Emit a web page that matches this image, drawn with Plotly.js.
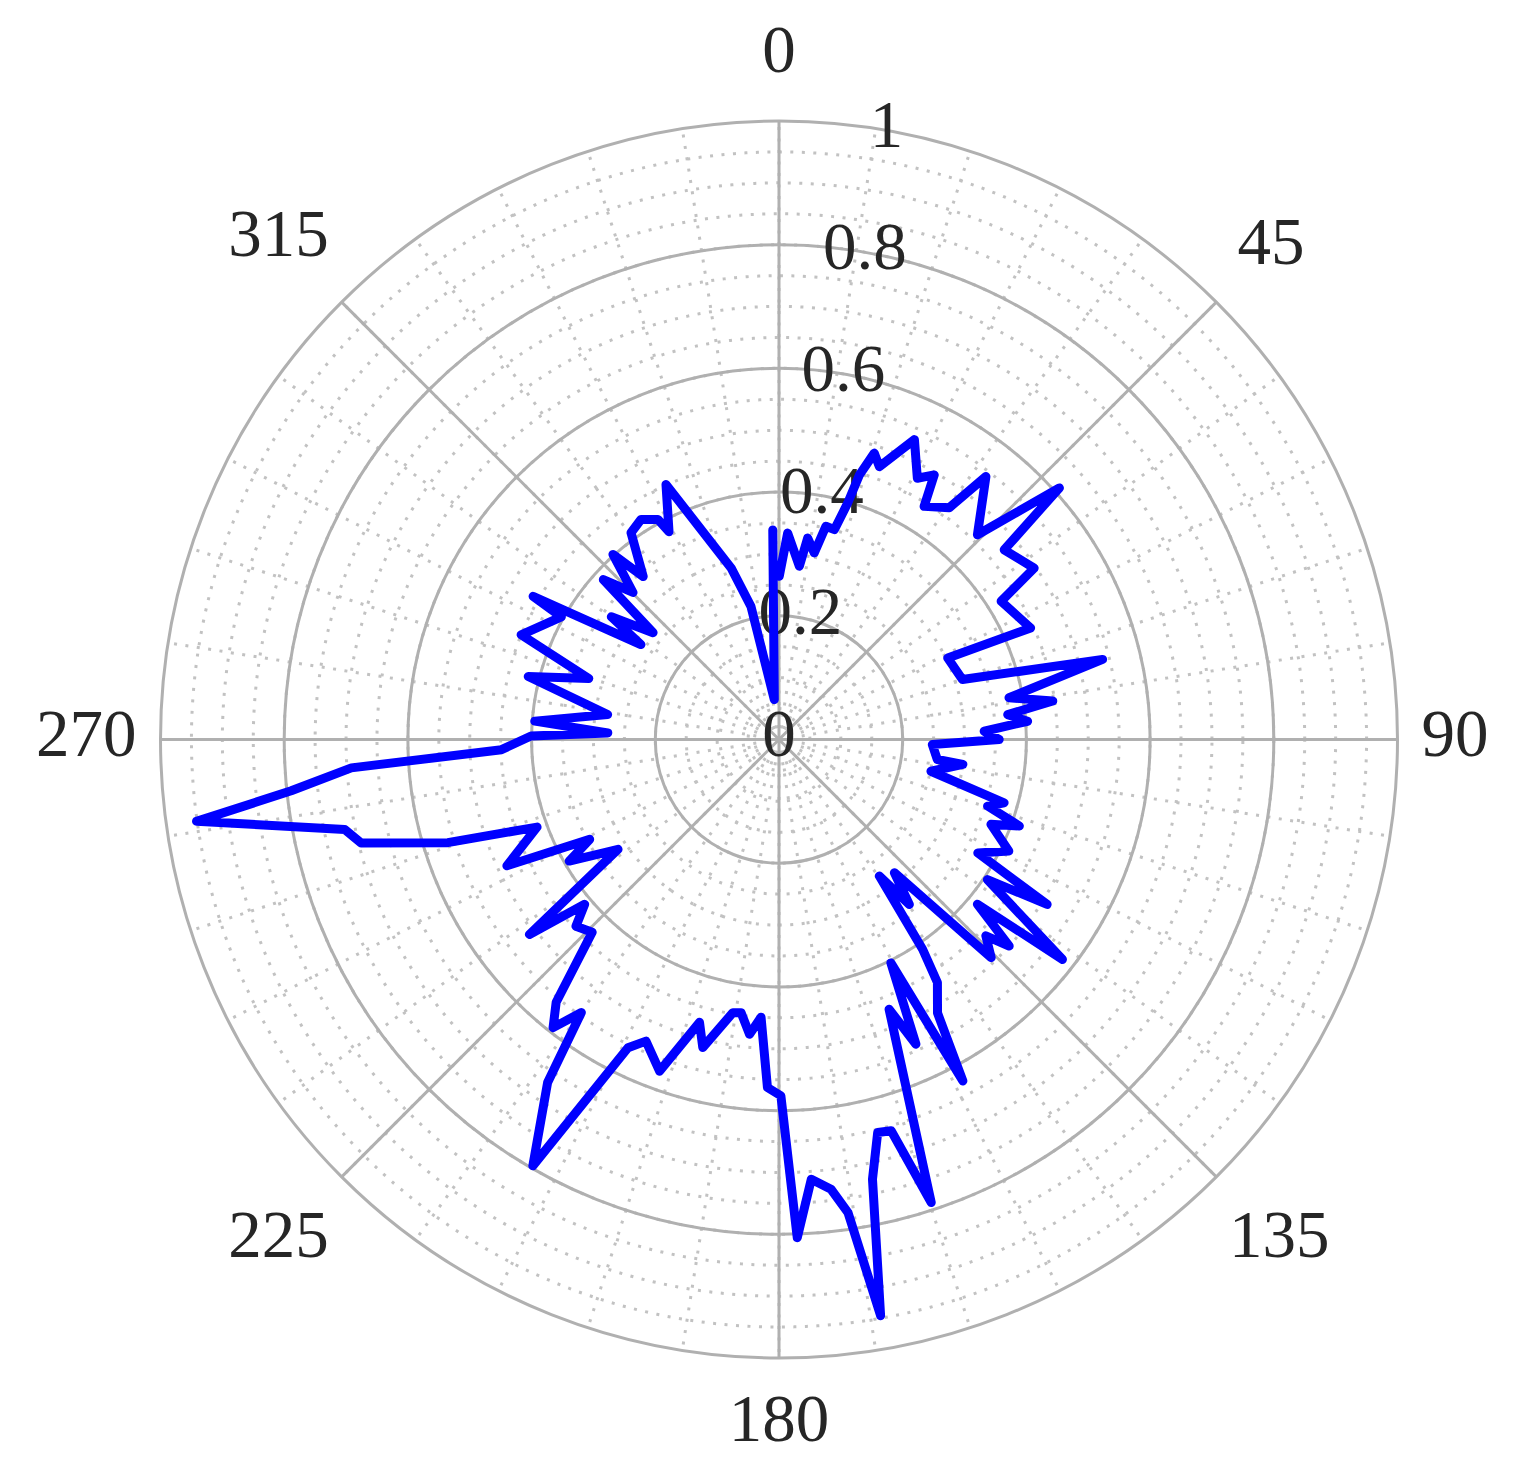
<!DOCTYPE html>
<html><head><meta charset="utf-8">
<script src="https://cdn.plot.ly/plotly-3.0.1.min.js"></script>
<style>
html,body{margin:0;padding:0;background:#fff;}
#chart{width:1522px;height:1476px;}
.js-line{stroke-linejoin:round;stroke-linecap:round;}
</style></head><body><div id="chart"></div>
<script>
// Series: angle (degrees, clockwise from top) and radius
const thetaDeg = [0.1,2.4,6.7,8.1,10.7,12.4,14.8,16.2,16.9,18.4,20.2,24.3,27.9,30.4,31.9,36.3,38.2,44.1,48.1,49.9,56.1,58.1,66.1,64.2,71.9,76.1,79.7,82.0,83.8,85.8,87.7,90.0,91.9,97.2,97.7,101.8,105.7,107.7,109.8,111.8,115.9,119.7,121.6,123.9,127.8,129.7,131.9,133.5,135.8,139.1,141.7,143.7,145.6,146.9,149.9,151.7,153.4,155.8,157.8,161.8,164.0,165.9,168.0,170.0,171.7,173.4,175.8,177.9,179.7,181.9,183.7,185.7,187.9,189.6,193.9,195.7,199.8,203.8,206.1,210.0,214.0,215.9,218.1,220.3,224.1,227.4,229.7,232.0,235.7,239.9,242.2,245.1,250.1,252.7,256.1,258.3,262.0,264.0,266.2,267.9,270.8,272.2,274.3,278.3,284.1,287.8,292.1,299.4,300.2,304.5,306.2,310.3,312.3,315.2,318.1,320.2,324.4,327.9,331.2,332.1,336.1,344.4,348.1,353.3,358.3];
const rValue = [0.264,0.334,0.282,0.329,0.307,0.353,0.351,0.398,0.447,0.488,0.470,0.532,0.478,0.496,0.444,0.465,0.541,0.461,0.609,0.476,0.497,0.423,0.445,0.303,0.312,0.539,0.378,0.447,0.372,0.403,0.332,0.356,0.248,0.258,0.300,0.251,0.378,0.354,0.413,0.369,0.413,0.370,0.509,0.406,0.580,0.417,0.500,0.461,0.492,0.285,0.340,0.274,0.411,0.469,0.511,0.627,0.404,0.540,0.471,0.788,0.658,0.655,0.727,0.946,0.773,0.732,0.713,0.806,0.576,0.563,0.450,0.479,0.446,0.448,0.513,0.475,0.570,0.533,0.555,0.796,0.669,0.545,0.592,0.557,0.434,0.446,0.412,0.512,0.315,0.392,0.346,0.485,0.416,0.561,0.696,0.717,0.951,0.793,0.693,0.449,0.401,0.277,0.396,0.280,0.418,0.323,0.450,0.404,0.460,0.271,0.336,0.267,0.384,0.335,0.402,0.343,0.411,0.420,0.406,0.380,0.451,0.288,0.220,0.065,0.339];

const angularTickVals = [0,45,90,135,180,225,270,315];
const angularTickText = ['0','45','90','135','180','225','270','315'];
const radialTickVals = [0,0.2,0.4,0.6,0.8,1];
const radialTickText = ['0','0.2','0.4','0.6','0.8','1'];
const radialLabelAngle = 10;

const FONT = 'Liberation Serif, Times New Roman, serif';
const FS = 67;
const TXT = '#262626';
const MAJOR = '#b0b0b0';
const MINOR = '#c2c2c2';

// geometry of the plotting circle (pixels)
const W = 1522, H = 1476, CX = 779, CY = 739.5, R = 618.5;
const OUTER = 1.19; // radial range of the label/data layer
function domainFor(scale){
  const rr = R*scale;
  return {x:[(CX-rr)/W, (CX+rr)/W], y:[1-(CY+rr)/H, 1-(CY-rr)/H]};
}
const domGrid = domainFor(1);
const domData = domainFor(OUTER);

// angular labels: label box kept at a fixed gap outside the circle (matplotlib-like)
const GAP = 24, BOXH = 1.25*FS;
const angularLabelR = angularTickVals.map((t,i) => {
  const a = t*Math.PI/180, w = angularTickText[i].length*0.5*FS;
  return (R + GAP + Math.abs(Math.sin(a))*w/2 + Math.abs(Math.cos(a))*BOXH/2)/R;
});

const dummy = sp => ({type:'scatterpolar', subplot:sp, r:[0], theta:[0], mode:'markers',
   marker:{opacity:0}, hoverinfo:'skip', showlegend:false});

const traces = [
  dummy('polar'), dummy('polar2'),
  {type:'scatterpolar', subplot:'polar3', r:angularLabelR,
   theta:angularTickVals, mode:'text', text:angularTickText,
   textposition:'middle center', textfont:{family:FONT,size:FS,color:TXT},
   cliponaxis:false, hoverinfo:'skip', showlegend:false},
  {type:'scatterpolar', subplot:'polar3', r:radialTickVals,
   theta:radialTickVals.map(()=>radialLabelAngle), mode:'text', text:radialTickText,
   textposition:'middle center', textfont:{family:FONT,size:FS,color:TXT},
   cliponaxis:false, hoverinfo:'skip', showlegend:false},
  {type:'scatterpolar', subplot:'polar3', r:rValue, theta:thetaDeg, mode:'lines',
   line:{color:'#0000ff', width:9}, cliponaxis:false, hoverinfo:'skip', showlegend:false}
];

const hiddenRadial = {showticklabels:false, ticks:'', showline:false, showgrid:false};
const hiddenAngular = {rotation:90, direction:'clockwise', showticklabels:false, ticks:'', showline:false, showgrid:false};

const layout = {
  width:W, height:H, autosize:false,
  margin:{l:0,r:0,t:0,b:0}, paper_bgcolor:'#ffffff',
  showlegend:false, hovermode:false,
  polar:{
    domain:domGrid, bgcolor:'#ffffff',
    radialaxis:{range:[0,1], tickmode:'linear', tick0:0, dtick:0.05, showticklabels:false,
      ticks:'', showline:false, gridcolor:MINOR, gridwidth:3, griddash:'3px,8.5px', layer:'below traces'},
    angularaxis:{rotation:90, direction:'clockwise', tickmode:'linear', tick0:0, dtick:9,
      showticklabels:false, ticks:'', showline:false, gridcolor:MINOR, gridwidth:3,
      griddash:'3px,8.5px', layer:'below traces'}
  },
  polar2:{
    domain:domGrid, bgcolor:'rgba(0,0,0,0)',
    radialaxis:{range:[0,1], tickmode:'array', tickvals:radialTickVals, showticklabels:false,
      ticks:'', showline:false, gridcolor:MAJOR, gridwidth:3, layer:'below traces'},
    angularaxis:{rotation:90, direction:'clockwise', tickmode:'array', tickvals:angularTickVals,
      ticktext:angularTickText, showticklabels:false, ticks:'',
      showline:true, linecolor:MAJOR, linewidth:3, gridcolor:MAJOR, gridwidth:3, layer:'below traces'}
  },
  polar3:{
    domain:domData, bgcolor:'rgba(0,0,0,0)',
    radialaxis:Object.assign({range:[0,OUTER]}, hiddenRadial),
    angularaxis:hiddenAngular
  }
};

Plotly.newPlot('chart', traces, layout, {staticPlot:true, displayModeBar:false});
</script></body></html>
